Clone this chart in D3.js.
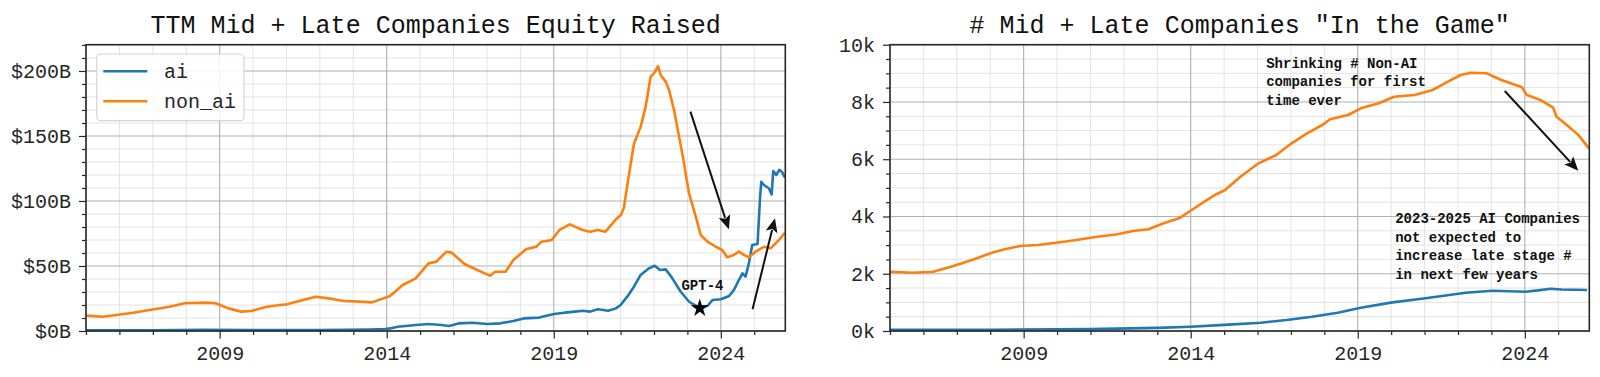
<!DOCTYPE html>
<html><head><meta charset="utf-8">
<script src="https://cdn.jsdelivr.net/npm/d3@7"></script>
<style>body{margin:0;background:#fff}svg{display:block}text{font-family:"Liberation Mono","DejaVu Sans Mono",monospace}</style>
</head><body><svg id="c" width="1600" height="377"></svg>
<script>
// ---------- data ----------
const leftTitle = "TTM Mid + Late Companies Equity Raised";
const rightTitle = '# Mid + Late Companies "In the Game"';
const xTickYears = [2009, 2014, 2019, 2024];
const leftYTicks = [0, 50, 100, 150, 200];
const rightYTicks = [0, 2000, 4000, 6000, 8000, 10000];
const seriesNames = ["ai", "non_ai"];

const eqNonAiYears = [2005.0,2005.5,2005.96,2006.42,2007.03,2007.5,2007.95,2008.57,2008.88,2009.26,2009.64,2009.95,2010.41,2010.8,2011.02,2011.49,2011.87,2012.26,2012.72,2013.18,2013.56,2014.1,2014.48,2014.87,2015.25,2015.48,2015.79,2015.94,2016.33,2016.71,2017.09,2017.25,2017.56,2017.79,2018.17,2018.48,2018.63,2018.94,2019.17,2019.48,2019.86,2020.09,2020.32,2020.55,2020.86,2021.01,2021.1,2021.2,2021.4,2021.6,2021.75,2021.9,2022.0,2022.12,2022.2,2022.35,2022.45,2022.6,2022.75,2022.9,2022.98,2023.05,2023.25,2023.4,2023.6,2023.85,2024.04,2024.19,2024.39,2024.54,2024.69,2024.84,2025.04,2025.29,2025.49,2025.74,2025.92];
const eqNonAiValues = [11.8,11.0,12.5,14,16.7,18.7,21.3,21.8,21.3,17.4,14.9,15.4,18.7,20,20.5,23.8,26.4,25.1,23.1,22.6,22,26.9,35.4,40.5,52,53.3,61,60.3,51.5,46.9,42.6,45.6,45.6,54.6,62.8,64.9,68.7,70,77.7,82,77.7,76.4,77.7,76.4,85.9,89.2,95,112,144,157,172.5,195.6,198.2,203.8,196.9,191.8,185.4,170,149.5,129,116,105.9,87.9,73.8,68.7,64.8,62.3,56.7,58.5,61,58.5,56.7,61,64.8,63.6,70,75.6];

const eqAiYears = [2005,2007,2008.5,2010,2012,2013.5,2013.95,2014.1,2014.33,2014.87,2015.25,2015.64,2015.87,2016.17,2016.56,2017.02,2017.4,2017.79,2018.1,2018.56,2019.01,2019.32,2019.63,2019.86,2020.09,2020.32,2020.63,2020.86,2021.0,2021.2,2021.4,2021.6,2021.85,2022.02,2022.18,2022.35,2022.55,2022.8,2023.05,2023.3,2023.6,2023.75,2024.0,2024.25,2024.39,2024.54,2024.65,2024.74,2024.84,2024.94,2025.1,2025.17,2025.21,2025.29,2025.44,2025.52,2025.57,2025.66,2025.75,2025.84,2025.92];
const eqAiValues = [0.5,0.5,1,0.7,0.8,1.2,1.5,2,3.3,4.6,5.4,4.6,3.8,5.9,6.4,5.4,5.9,7.7,9.7,10.3,13.1,14.1,14.9,15.6,14.9,16.7,15.6,17.4,20,26.4,34.1,43.1,48.2,50.2,46.9,47.4,40.5,30.2,22.5,18.7,19.2,23.8,24.4,26.9,31.5,39.2,44.4,41.8,52,66.2,66.9,100.8,114.8,112.3,109.8,105,123,120,124,122,118];

const cntNonAiYears = [2005.0,2005.68,2006.29,2006.9,2007.52,2008.05,2008.43,2008.9,2009.43,2009.97,2010.58,2011.2,2011.81,2012.27,2012.73,2013.19,2013.65,2014.03,2014.41,2014.72,2015.03,2015.49,2016.03,2016.56,2017.02,2017.48,2017.94,2018.17,2018.71,2019.09,2019.63,2020.09,2020.7,2021.24,2021.7,2022.08,2022.39,2022.85,2023.3,2023.92,2024.05,2024.5,2024.85,2024.95,2025.3,2025.6,2025.92];
const cntNonAiValues = [2071,2036,2071,2270,2504,2735,2854,2969,3004,3084,3178,3294,3378,3493,3552,3762,3936,4226,4516,4750,4925,5390,5857,6147,6556,6905,7195,7394,7545,7778,7953,8184,8243,8418,8708,8942,9022,9001,8767,8512,8250,8050,7800,7480,7150,6850,6380];

const cntAiYears = [2005,2008,2011,2013,2014,2015,2016.1,2016.87,2017.63,2018.4,2019.09,2020.04,2021.03,2022.23,2023.03,2024.02,2024.4,2024.77,2025.1,2025.86];
const cntAiValues = [40,45,65,110,150,215,290,384,500,640,814,1000,1141,1338,1408,1373,1420,1478,1450,1432];

// annotations (data coordinates)
const gpt4Star = [2023.37, 17.5];
const gpt4Label = {text: "GPT-4", x: 2023.45, y: 35};
const leftArrows = [{from: [2023.09, 168.7], to: [2024.24, 78.2]}, {from: [2024.95, 16.7], to: [2025.62, 86.7]}];
const rightArrows = [{from: [2023.4, 8383], to: [2025.6, 5599]}];
const rightNotes = [
  {x: 2016.26, y: 9371, lines: ["Shrinking # Non-AI", "companies for first", "time ever"]},
  {x: 2020.12, y: 3936, lines: ["2023-2025 AI Companies", "not expected to", "increase late stage #", "in next few years"]}
];

// ---------- drawing ----------
const svg = d3.select("#c");
const colors = {ai: "#1f77b4", non_ai: "#ff7f0e"};
const xDomain = [2005.0, 2025.93];

function panel(opts) {
  const {left, right, top, bottom, yDomain, yTicks, yMinorStep, yFmt, title, series, id} = opts;
  const g = svg.append("g");
  const x = d3.scaleLinear().domain(xDomain).range([left, right]);
  const y = d3.scaleLinear().domain(yDomain).range([bottom, top]);
  const minorX = d3.range(2005, 2026, 1).filter(v => !xTickYears.includes(v));
  const minorY = d3.range(yDomain[0], yDomain[1] + 1e-9, yMinorStep).filter(v => !yTicks.includes(v));

  // minor grid
  g.append("g").selectAll("line.mx").data(minorX).join("line")
    .attr("x1", d => x(d)).attr("x2", d => x(d)).attr("y1", top).attr("y2", bottom)
    .attr("stroke", "#e3e3e3").attr("stroke-width", 1);
  g.append("g").selectAll("line.my").data(minorY).join("line")
    .attr("x1", left).attr("x2", right).attr("y1", d => y(d)).attr("y2", d => y(d))
    .attr("stroke", "#e3e3e3").attr("stroke-width", 1);
  // major grid
  g.append("g").selectAll("line").data(xTickYears).join("line")
    .attr("x1", d => x(d)).attr("x2", d => x(d)).attr("y1", top).attr("y2", bottom)
    .attr("stroke", "#b0b0b0").attr("stroke-width", 1.1);
  g.append("g").selectAll("line").data(yTicks).join("line")
    .attr("x1", left).attr("x2", right).attr("y1", d => y(d)).attr("y2", d => y(d))
    .attr("stroke", "#b0b0b0").attr("stroke-width", 1.1);

  // clip
  svg.append("clipPath").attr("id", id).append("rect")
    .attr("x", left).attr("y", top).attr("width", right - left).attr("height", bottom - top);

  const line = d3.line().x(d => x(d[0])).y(d => y(d[1]));
  series.forEach(s => {
    g.append("path").attr("clip-path", `url(#${id})`)
      .datum(s.years.map((yr, i) => [yr, s.values[i]]))
      .attr("d", line).attr("fill", "none").attr("stroke", s.color)
      .attr("stroke-width", 2.6).attr("stroke-linejoin", "round");
  });

  // axes
  const xAxis = d3.axisBottom(x).tickValues(xTickYears).tickFormat(d3.format("d")).tickSize(7.5).tickPadding(7);
  const xMinorAxis = d3.axisBottom(x).tickValues(minorX).tickFormat("").tickSize(4);
  const yAxis = d3.axisLeft(y).tickValues(yTicks).tickFormat(yFmt).tickSize(7).tickPadding(8);
  const yMinorAxis = d3.axisLeft(y).tickValues(minorY).tickFormat("").tickSize(4);
  const style = sel => {
    sel.select(".domain").remove();
    sel.selectAll("line").attr("stroke", "#262626").attr("stroke-width", 1.2);
    sel.selectAll("text").attr("font-size", 20).attr("fill", "#262626")
      .attr("font-family", '"Liberation Mono", monospace');
  };
  g.append("g").attr("transform", `translate(0,${bottom})`).call(xMinorAxis).call(style);
  g.append("g").attr("transform", `translate(0,${bottom})`).call(xAxis).call(style);
  g.append("g").attr("transform", `translate(${left},0)`).call(yMinorAxis).call(style);
  g.append("g").attr("transform", `translate(${left},0)`).call(yAxis).call(style);

  // spines
  g.append("rect").attr("x", left).attr("y", top).attr("width", right - left).attr("height", bottom - top)
    .attr("fill", "none").attr("stroke", "#262626").attr("stroke-width", 1.6);

  // title
  g.append("text").attr("x", (left + right) / 2).attr("y", 32.5).attr("text-anchor", "middle")
    .attr("font-size", 25).attr("fill", "#111").text(title);
  return {g, x, y};
}

function arrow(g, x, y, a) {
  const x1 = x(a.from[0]), y1 = y(a.from[1]), x2 = x(a.to[0]), y2 = y(a.to[1]);
  const ang = Math.atan2(y2 - y1, x2 - x1);
  const hl = 14, hw = 6;
  const bx = x2 - hl * Math.cos(ang), by = y2 - hl * Math.sin(ang);
  g.append("line").attr("x1", x1).attr("y1", y1).attr("x2", bx + 2 * Math.cos(ang)).attr("y2", by + 2 * Math.sin(ang))
    .attr("stroke", "#111").attr("stroke-width", 2);
  const px = -Math.sin(ang), py = Math.cos(ang);
  g.append("path").attr("d", `M${x2},${y2}L${bx + hw * px},${by + hw * py}L${bx + 3 * Math.cos(ang)},${by + 3 * Math.sin(ang)}L${bx - hw * px},${by - hw * py}Z`)
    .attr("fill", "#111");
}

// left panel
const L = panel({
  id: "clipL", left: 86, right: 785.3, top: 44.7, bottom: 331,
  yDomain: [0, 220.2], yTicks: leftYTicks, yMinorStep: 10, yFmt: d => `$${d}B`,
  title: leftTitle,
  series: [
    {years: eqAiYears, values: eqAiValues, color: colors.ai},
    {years: eqNonAiYears, values: eqNonAiValues, color: colors.non_ai}
  ]
});
leftArrows.forEach(a => arrow(L.g, L.x, L.y, a));
L.g.append("path").attr("d", d3.symbol(d3.symbolStar, 100)())
  .attr("transform", `translate(${L.x(gpt4Star[0])},${L.y(gpt4Star[1])})`).attr("fill", "#000");
L.g.append("text").attr("x", L.x(gpt4Label.x)).attr("y", L.y(gpt4Label.y)).attr("dy", "0.35em")
  .attr("text-anchor", "middle").attr("font-size", 14).attr("font-weight", "bold").attr("fill", "#111").text(gpt4Label.text);

// legend
const lg = L.g.append("g");
lg.append("rect").attr("x", 96.7).attr("y", 54).attr("width", 147.3).attr("height", 66.7).attr("rx", 4)
  .attr("fill", "rgba(255,255,255,0.85)").attr("stroke", "#d5d5d5").attr("stroke-width", 1.2);
seriesNames.forEach((n, i) => {
  const yy = 71.3 + i * 30;
  lg.append("line").attr("x1", 103.3).attr("x2", 147.3).attr("y1", yy).attr("y2", yy)
    .attr("stroke", colors[n]).attr("stroke-width", 2.6);
  lg.append("text").attr("x", 164).attr("y", yy).attr("dy", "0.33em").attr("font-size", 20).attr("fill", "#262626").text(n);
});

// right panel
const R = panel({
  id: "clipR", left: 890, right: 1589.3, top: 44.7, bottom: 331,
  yDomain: [0, 10000], yTicks: rightYTicks, yMinorStep: 500, yFmt: d => `${d / 1000}k`,
  title: rightTitle,
  series: [
    {years: cntAiYears, values: cntAiValues, color: colors.ai},
    {years: cntNonAiYears, values: cntNonAiValues, color: colors.non_ai}
  ]
});
rightArrows.forEach(a => arrow(R.g, R.x, R.y, a));
rightNotes.forEach(n => {
  const t = R.g.append("text").attr("x", R.x(n.x)).attr("y", R.y(n.y)).attr("font-size", 14)
    .attr("font-weight", "bold").attr("fill", "#111");
  n.lines.forEach((s, i) => t.append("tspan").attr("x", R.x(n.x)).attr("dy", i === 0 ? "0.35em" : "1.33em").text(s));
});
</script></body></html>
